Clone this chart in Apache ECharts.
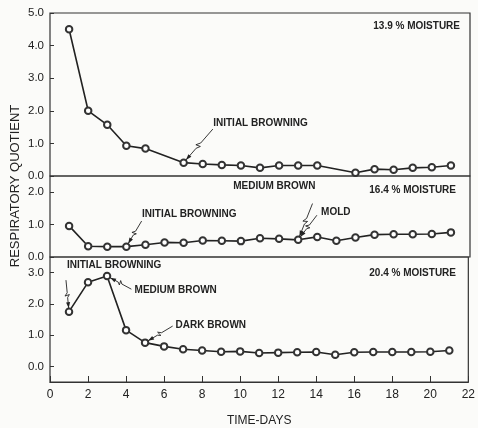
<!DOCTYPE html>
<html>
<head>
<meta charset="utf-8">
<script src="https://cdn.jsdelivr.net/npm/echarts@6/dist/echarts.min.js"></script>
<style>
  html, body { margin: 0; background: #fbfbf9; }
  #chart { width: 478px; height: 428px; }
</style>
</head>
<body>
<div id="chart"></div>
<script>
// 13.9 % moisture (no readings on day 6 and 15)
var days13 = [1, 2, 3, 4, 5, 7, 8, 9, 10, 11, 12, 13, 14, 16, 17, 18, 19, 20, 21];
var rq13 = [4.5, 2.0, 1.57, 0.93, 0.84, 0.41, 0.37, 0.34, 0.32, 0.25, 0.32, 0.32, 0.32, 0.10, 0.21, 0.19, 0.25, 0.27, 0.32];
// 16.4 % moisture
var days16 = [1, 2, 3, 4, 5, 6, 7, 8, 9, 10, 11, 12, 13, 14, 15, 16, 17, 18, 19, 20, 21];
var rq16 = [0.96, 0.33, 0.32, 0.32, 0.38, 0.45, 0.44, 0.51, 0.50, 0.49, 0.58, 0.56, 0.53, 0.62, 0.50, 0.60, 0.69, 0.70, 0.70, 0.71, 0.76];
// 20.4 % moisture
var days20 = [1, 2, 3, 4, 5, 6, 7, 8, 9, 10, 11, 12, 13, 14, 15, 16, 17, 18, 19, 20, 21];
var rq20 = [1.75, 2.69, 2.89, 1.16, 0.76, 0.64, 0.55, 0.51, 0.47, 0.48, 0.43, 0.44, 0.45, 0.46, 0.37, 0.45, 0.46, 0.46, 0.46, 0.47, 0.51];

var panelTitles = ['13.9 % MOISTURE', '16.4 % MOISTURE', '20.4 % MOISTURE'];
var yTicks = [[0, 1, 2, 3, 4, 5], [0, 1, 2], [0, 1, 2, 3]];
var yRange = [[0, 5], [0, 2.5], [-0.5, 3.5]];
var xTicks = [0, 2, 4, 6, 8, 10, 12, 14, 16, 18, 20, 22];

// annotations: text, text anchor [day, rq], arrow tail [day, rq], day pointed at
var noteText13 = ['INITIAL BROWNING'];
var noteAt13 = [[8.55, 1.63]];
var noteFrom13 = [[8.53, 1.44]];
var noteDay13 = [7];

var noteText16 = ['INITIAL BROWNING', 'MEDIUM BROWN', 'MOLD'];
var noteAt16 = [[4.82, 1.32], [9.6, 2.18], [14.2, 1.38]];
var noteFrom16 = [[4.8, 1.11], [13.75, 1.65], [13.98, 1.29]];
var noteDay16 = [4, 13, 13];

var noteText20 = ['INITIAL BROWNING', 'MEDIUM BROWN', 'DARK BROWN'];
var noteAt20 = [[0.89, 3.25], [4.45, 2.45], [6.6, 1.32]];
var noteFrom20 = [[0.84, 2.76], [4.28, 2.47], [6.45, 1.29]];
var noteDay20 = [1, 3, 5];

var ink = '#222';
var fontFamily = 'Liberation Sans, Arial, sans-serif';

function pairs(xs, ys) {
  return xs.map(function (x, i) { return [x, ys[i]]; });
}

function noteRows(at, from, day, xs, ys) {
  return at.map(function (p, i) {
    var k = xs.indexOf(day[i]);
    return [p[0], p[1], from[i][0], from[i][1], xs[k], ys[k]];
  });
}

function noteSeries(idx, texts, rows) {
  return {
    type: 'custom',
    xAxisIndex: idx,
    yAxisIndex: idx,
    clip: false,
    silent: true,
    z: 5,
    data: rows,
    renderItem: function (params, api) {
      var t = api.coord([api.value(0), api.value(1)]);
      var a = api.coord([api.value(2), api.value(3)]);
      var b = api.coord([api.value(4), api.value(5)]);
      var dx = b[0] - a[0], dy = b[1] - a[1];
      var len = Math.sqrt(dx * dx + dy * dy);
      var ux = dx / len, uy = dy / len, nx = -uy, ny = ux;
      // stop at the edge of the hollow marker
      var tip = [b[0] - ux * 3.5, b[1] - uy * 3.5];
      dx = tip[0] - a[0]; dy = tip[1] - a[1];
      function at(f, o) { return [a[0] + dx * f + nx * o, a[1] + dy * f + ny * o]; }
      var pts = [a, at(0.45, 0), at(0.56, 2.5), at(0.52, -2), at(0.62, 0), tip];
      var head = [
        tip,
        [tip[0] - ux * 6 + nx * 2, tip[1] - uy * 6 + ny * 2],
        [tip[0] - ux * 6 - nx * 2, tip[1] - uy * 6 - ny * 2]
      ];
      return {
        type: 'group',
        children: [
          { type: 'polyline', shape: { points: pts }, style: { stroke: ink, lineWidth: 0.9, fill: null } },
          { type: 'polygon', shape: { points: head }, style: { fill: ink } },
          {
            type: 'text', x: t[0], y: t[1],
            style: {
              text: texts[params.dataIndex], fill: ink,
              font: 'bold 10px ' + fontFamily,
              align: 'left', verticalAlign: 'middle'
            }
          }
        ]
      };
    }
  };
}

function lineSeries(idx, xs, ys) {
  return {
    type: 'line',
    xAxisIndex: idx,
    yAxisIndex: idx,
    data: pairs(xs, ys),
    symbol: 'emptyCircle',
    symbolSize: 6.5,
    lineStyle: { color: ink, width: 1.6 },
    itemStyle: { color: '#333', borderWidth: 0.8 },
    z: 3
  };
}

var grids = [
  { left: 50, right: 8, top: 13, height: 163 },
  { left: 50, right: 8, top: 176, height: 81 },
  { left: 50, right: 8, top: 257, height: 131 }
];

var chart = echarts.init(document.getElementById('chart'), null, { renderer: 'canvas' });

var option = {
  backgroundColor: '#fbfbf9',
  animation: false,
  grid: grids.map(function (g) {
    return Object.assign({ show: true, borderColor: '#333', borderWidth: 1.2, backgroundColor: 'transparent' }, g);
  }),
  xAxis: [0, 1, 2].map(function (i) {
    var bottom = i === 2;
    return {
      type: 'value',
      gridIndex: i,
      position: 'bottom',
      min: 0,
      max: 22,
      interval: 2,
      name: bottom ? 'TIME-DAYS' : '',
      nameLocation: 'middle',
      nameGap: 33,
      nameTextStyle: { color: ink, fontSize: 12, fontFamily: fontFamily },
      axisLine: { show: bottom, onZero: false, lineStyle: { color: '#333', width: 1.2 } },
      axisTick: { show: bottom, inside: true, length: 6, lineStyle: { color: '#333' }, customValues: xTicks },
      axisLabel: { show: bottom, color: ink, fontSize: 12, fontFamily: fontFamily, margin: 7, customValues: xTicks },
      splitLine: { show: false }
    };
  }),
  yAxis: [0, 1, 2].map(function (i) {
    return {
      type: 'value',
      gridIndex: i,
      min: yRange[i][0],
      max: yRange[i][1],
      axisLine: { show: false, onZero: false },
      axisTick: { show: true, inside: true, length: 4, lineStyle: { color: '#333' }, customValues: yTicks[i] },
      axisLabel: {
        color: ink, fontSize: 11.5, fontFamily: fontFamily, margin: 6,
        customValues: yTicks[i],
        formatter: function (v) { return v.toFixed(1); }
      },
      splitLine: { show: false }
    };
  }),
  graphic: [
    {
      type: 'text', x: 15, y: 186, rotation: Math.PI / 2,
      style: { text: 'RESPIRATORY QUOTIENT', fill: ink, font: '13px ' + fontFamily, align: 'center', verticalAlign: 'middle' }
    },
    {
      type: 'text', x: 460, y: 26,
      style: { text: panelTitles[0], fill: ink, font: 'bold 10px ' + fontFamily, align: 'right', verticalAlign: 'middle' }
    },
    {
      type: 'text', x: 456, y: 190,
      style: { text: panelTitles[1], fill: ink, font: 'bold 10px ' + fontFamily, align: 'right', verticalAlign: 'middle' }
    },
    {
      type: 'text', x: 456, y: 273,
      style: { text: panelTitles[2], fill: ink, font: 'bold 10px ' + fontFamily, align: 'right', verticalAlign: 'middle' }
    }
  ],
  series: [
    lineSeries(0, days13, rq13),
    lineSeries(1, days16, rq16),
    lineSeries(2, days20, rq20),
    noteSeries(0, noteText13, noteRows(noteAt13, noteFrom13, noteDay13, days13, rq13)),
    noteSeries(1, noteText16, noteRows(noteAt16, noteFrom16, noteDay16, days16, rq16)),
    noteSeries(2, noteText20, noteRows(noteAt20, noteFrom20, noteDay20, days20, rq20))
  ]
};

chart.setOption(option);
window.addEventListener('resize', function () {
  chart.resize();
});
</script>
</body>
</html>
